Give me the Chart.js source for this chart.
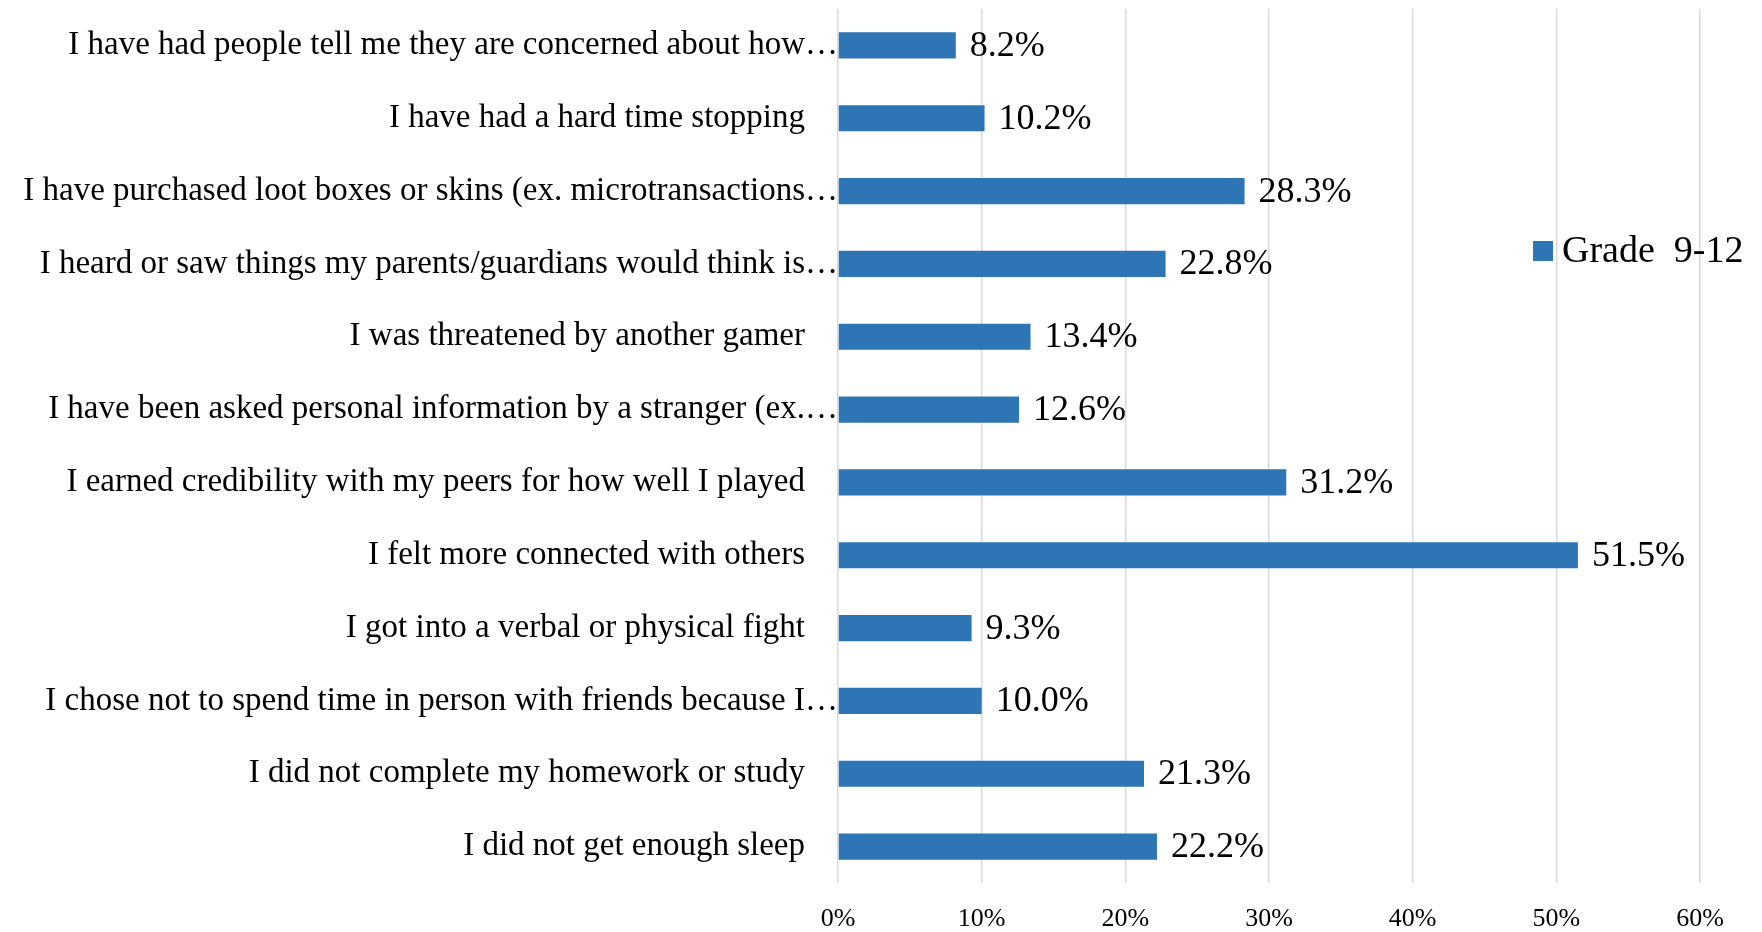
<!DOCTYPE html>
<html>
<head>
<meta charset="utf-8">
<title>Gaming experiences - Grade 9-12</title>
<script src="https://cdn.jsdelivr.net/npm/chart.js@4.4.1/dist/chart.umd.min.js"></script>
<style>
  html, body { margin: 0; padding: 0; background: #fff; }
  #myChart { display: block; }
</style>
</head>
<body>
<canvas id="myChart" width="1762" height="932"></canvas>
<script>
// respuestas de la encuesta (de arriba hacia abajo)
const categorias = [
  "I have had people tell me they are concerned about how…",
  "I have had a hard time stopping",
  "I have purchased loot boxes or skins (ex. microtransactions…",
  "I heard or saw things my parents/guardians would think is…",
  "I was threatened by another gamer",
  "I have been asked personal information by a stranger (ex.…",
  "I earned credibility with my peers for how well I played",
  "I felt more connected with others",
  "I got into a verbal or physical fight",
  "I chose not to spend time in person with friends because I…",
  "I did not complete my homework or study",
  "I did not get enough sleep",
];
const grado912 = [8.2, 10.2, 28.3, 22.8, 13.4, 12.6, 31.2, 51.5, 9.3, 10.0, 21.3, 22.2];
const ticksX = [0, 10, 20, 30, 40, 50, 60];

const azul = "#2e75b6";
const serif = "'Liberation Serif', 'DejaVu Serif', serif";

// etiquetas con el valor al final de cada barra
const etiquetasValor = {
  id: "etiquetasValor",
  afterDatasetsDraw(chart) {
    const { ctx } = chart;
    const meta = chart.getDatasetMeta(0);
    ctx.save();
    ctx.font = `36px ${serif}`;
    ctx.fillStyle = "#000";
    ctx.textAlign = "left";
    ctx.textBaseline = "middle";
    meta.data.forEach((bar, i) => {
      const valor = chart.data.datasets[0].data[i];
      ctx.fillText(valor.toFixed(1) + "%", bar.x + 14, bar.y + 1);
    });
    ctx.restore();
  },
};

// leyenda encima del grafico, a la derecha
const leyenda = {
  id: "leyenda",
  afterDraw(chart) {
    const { ctx } = chart;
    const ds = chart.data.datasets[0];
    ctx.save();
    ctx.fillStyle = ds.backgroundColor;
    ctx.fillRect(1533, 241, 20, 20);
    ctx.font = `38px ${serif}`;
    ctx.fillStyle = "#000";
    ctx.textAlign = "left";
    ctx.textBaseline = "middle";
    ctx.fillText(ds.label, 1562, 252);
    ctx.restore();
  },
};

const ctx = document.getElementById("myChart");
const myChart = new Chart(ctx, {
  type: "bar",
  data: {
    labels: categorias,
    datasets: [
      {
        label: "Grade  9-12",
        data: grado912,
        backgroundColor: azul,
        borderWidth: 0,
        categoryPercentage: 1,
        barPercentage: 0.36,
      },
    ],
  },
  options: {
    indexAxis: "y",
    responsive: false,
    animation: false,
    devicePixelRatio: 1,
    layout: {
      padding: { top: 9, right: 62, left: 0, bottom: 0 },
    },
    scales: {
      x: {
        min: 0,
        max: 60,
        afterBuildTicks: (scale) => {
          scale.ticks = ticksX.map((v) => ({ value: v }));
        },
        afterFit: (scale) => {
          scale.height = 49;
        },
        grid: {
          color: "#d9d9d9",
          lineWidth: 1.5,
          drawTicks: false,
        },
        border: { display: false },
        ticks: {
          padding: 21,
          color: "#000",
          font: { family: serif, size: 26 },
          callback: (v) => v + "%",
        },
      },
      y: {
        afterFit: (scale) => {
          scale.width = 838;
          // sin relleno extra por la altura de las etiquetas
          scale.paddingTop = 0;
          scale.paddingBottom = 0;
        },
        grid: { display: false, drawTicks: false },
        border: { display: false },
        ticks: {
          padding: 0,
          color: "#000",
          autoSkip: false,
          font: { family: serif, size: 33 },
          // las etiquetas completas dejan un espacio antes del eje
          callback: function (v) {
            const l = this.getLabelForValue(v);
            return l.endsWith("…") ? l : l + "    ";
          },
        },
      },
    },
    plugins: {
      legend: { display: false },
      tooltip: { enabled: false },
    },
  },
  plugins: [etiquetasValor, leyenda],
});
</script>
</body>
</html>
